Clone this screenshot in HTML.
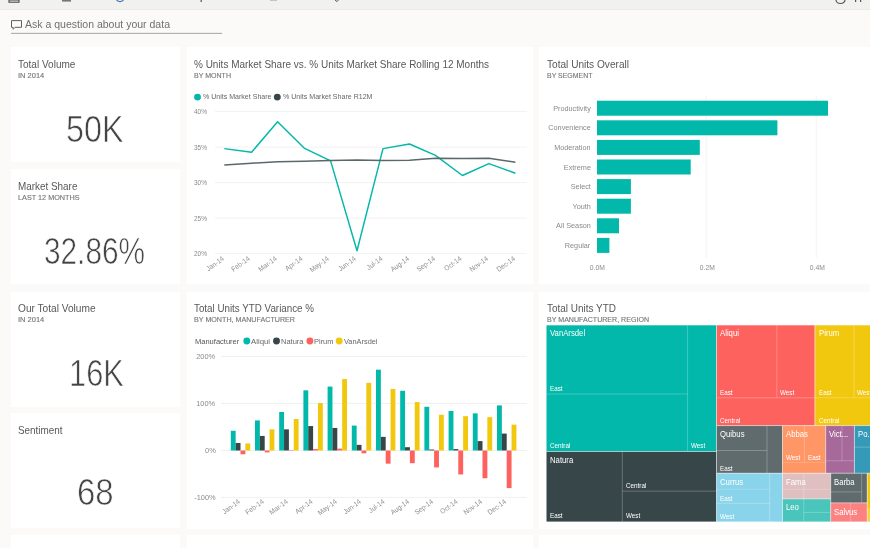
<!DOCTYPE html>
<html><head><meta charset="utf-8"><title>Dashboard</title>
<style>
html,body{margin:0;padding:0}
body{width:870px;height:548px;overflow:hidden;background:#fbfaf9;font-family:"Liberation Sans",sans-serif;position:relative}
#wrap{position:absolute;left:0;top:0;width:870px;height:548px;overflow:hidden;filter:blur(0.45px)}
.topbar{position:absolute;left:0;top:0;width:870px;height:8.8px;background:#f1f1f0;border-bottom:1px solid #ebebea}
.tile{position:absolute;background:#fff}
.t{position:absolute;white-space:nowrap;line-height:1}
.num{-webkit-text-stroke:0.7px #fff}
.sub{-webkit-text-stroke:0.12px #757575}
svg{position:absolute;left:0;top:0}
.rl{position:absolute;white-space:nowrap;line-height:1;font-size:7.1px;color:#8e8e8e;transform-origin:100% 50%}
</style></head><body><div id="wrap">
<div class="topbar"></div>

<div class="tile" style="left:11px;top:47.2px;width:168.5px;height:115px"></div>
<div class="tile" style="left:11px;top:169px;width:168.5px;height:115px"></div>
<div class="tile" style="left:11px;top:291.5px;width:168.5px;height:115px"></div>
<div class="tile" style="left:11px;top:413.3px;width:168.5px;height:115px"></div>
<div class="tile" style="left:11px;top:535px;width:168.5px;height:20px"></div>
<div class="tile" style="left:187px;top:47.2px;width:346px;height:237px"></div>
<div class="tile" style="left:187px;top:291.5px;width:346px;height:237px"></div>
<div class="tile" style="left:187px;top:535px;width:346px;height:20px"></div>
<div class="tile" style="left:539px;top:47.2px;width:340px;height:237px"></div>
<div class="tile" style="left:539px;top:291.5px;width:340px;height:237px"></div>
<div class="tile" style="left:539px;top:535px;width:340px;height:20px"></div>
<svg width="870" height="548" viewBox="0 0 870 548">
<rect x="9" y="0" width="10" height="2.2" fill="none" stroke="#555" stroke-width="1.2"/>
<rect x="62" y="0" width="9" height="1.6" fill="#777"/>
<path d="M116.5 0 a4 3 0 0 0 7 0" fill="none" stroke="#3a6fb0" stroke-width="1.2"/>
<rect x="200.6" y="0" width="1.2" height="2" fill="#555"/>
<path d="M335 0 l2 1.6 l1.5 -1.6" fill="none" stroke="#555" stroke-width="1"/><rect x="270" y="0" width="7" height="0.8" fill="#bbb"/>
<path d="M836 0 a4.5 3.5 0 0 0 9 0" fill="none" stroke="#555" stroke-width="1.2"/>
<rect x="855" y="0" width="1.2" height="2" fill="#555"/><rect x="860" y="0" width="1.2" height="2" fill="#555"/>
<path d="M11.5 20.6h10v6.7h-6.4l-2 2v-2h-1.6z" fill="none" stroke="#606060" stroke-width="1"/>
<rect x="11" y="32.9" width="211" height="0.7" fill="#808080"/>
<line x1="215" x2="527" y1="111.6" y2="111.6" stroke="#f2f2f2" stroke-width="1"/>
<line x1="215" x2="527" y1="147.1" y2="147.1" stroke="#f2f2f2" stroke-width="1"/>
<line x1="215" x2="527" y1="182.6" y2="182.6" stroke="#f2f2f2" stroke-width="1"/>
<line x1="215" x2="527" y1="218.1" y2="218.1" stroke="#f2f2f2" stroke-width="1"/>
<line x1="215" x2="527" y1="253.6" y2="253.6" stroke="#f2f2f2" stroke-width="1"/>
<polyline fill="none" stroke="#01b8aa" stroke-width="1.45" stroke-linejoin="round" points="224.3,148.6 251.6,152.2 277.6,121.7 304.1,148.1 330.6,160.9 357.0,250.8 383.0,148.6 409.5,144.0 435.5,155.4 462.4,175.5 488.9,163.6 515.4,173.2"/>
<polyline fill="none" stroke="#5a686b" stroke-width="1.5" stroke-linejoin="round" points="224.3,165.0 251.6,163.2 277.6,161.8 304.1,161.2 330.6,160.5 357,160 383,160.5 409.5,160.2 435.5,158.2 462.4,158.6 488.9,158.2 515.4,162.3"/>
<circle cx="197.5" cy="97.1" r="3.45" fill="#01b8aa"/><circle cx="277.3" cy="97.1" r="3.45" fill="#374649"/>
<line x1="706.2" x2="706.2" y1="96" y2="258" stroke="#f3f3f3" stroke-width="1"/>
<line x1="816.2" x2="816.2" y1="96" y2="258" stroke="#f3f3f3" stroke-width="1"/>
<rect x="597.0" y="100.7" width="231.0" height="15" fill="#01b8aa"/>
<rect x="597.0" y="120.3" width="180.4" height="15" fill="#01b8aa"/>
<rect x="597.0" y="139.9" width="102.8" height="15" fill="#01b8aa"/>
<rect x="597.0" y="159.5" width="93.7" height="15" fill="#01b8aa"/>
<rect x="597.0" y="179.1" width="33.9" height="15" fill="#01b8aa"/>
<rect x="597.0" y="198.7" width="33.9" height="15" fill="#01b8aa"/>
<rect x="597.0" y="218.3" width="22.0" height="15" fill="#01b8aa"/>
<rect x="597.0" y="237.9" width="12.4" height="15" fill="#01b8aa"/>
<line x1="221" x2="527" y1="356.4" y2="356.4" stroke="#f0f0f0" stroke-width="1"/>
<line x1="221" x2="527" y1="403.4" y2="403.4" stroke="#f0f0f0" stroke-width="1"/>
<line x1="221" x2="527" y1="450.4" y2="450.4" stroke="#f0f0f0" stroke-width="1"/>
<line x1="221" x2="527" y1="497.4" y2="497.4" stroke="#f0f0f0" stroke-width="1"/>
<rect x="230.80" y="430.76" width="4.85" height="19.74" fill="#01b8aa"/>
<rect x="235.65" y="442.98" width="4.85" height="7.52" fill="#374649"/>
<rect x="240.50" y="450.50" width="4.85" height="3.76" fill="#fd625e"/>
<rect x="245.35" y="443.45" width="4.85" height="7.05" fill="#f2c80f"/>
<rect x="255.00" y="420.42" width="4.85" height="30.08" fill="#01b8aa"/>
<rect x="259.85" y="435.93" width="4.85" height="14.57" fill="#374649"/>
<rect x="264.70" y="450.50" width="4.85" height="1.88" fill="#fd625e"/>
<rect x="269.55" y="429.35" width="4.85" height="21.15" fill="#f2c80f"/>
<rect x="279.20" y="411.96" width="4.85" height="38.54" fill="#01b8aa"/>
<rect x="284.05" y="429.35" width="4.85" height="21.15" fill="#374649"/>
<rect x="288.90" y="450.50" width="4.85" height="0.47" fill="#fd625e"/>
<rect x="293.75" y="419.01" width="4.85" height="31.49" fill="#f2c80f"/>
<rect x="303.40" y="390.34" width="4.85" height="60.16" fill="#01b8aa"/>
<rect x="308.25" y="426.06" width="4.85" height="24.44" fill="#374649"/>
<rect x="313.10" y="449.09" width="4.85" height="1.41" fill="#fd625e"/>
<rect x="317.95" y="403.03" width="4.85" height="47.47" fill="#f2c80f"/>
<rect x="327.60" y="386.58" width="4.85" height="63.92" fill="#01b8aa"/>
<rect x="332.45" y="427.94" width="4.85" height="22.56" fill="#374649"/>
<rect x="337.30" y="448.62" width="4.85" height="1.88" fill="#fd625e"/>
<rect x="342.15" y="379.06" width="4.85" height="71.44" fill="#f2c80f"/>
<rect x="351.80" y="425.59" width="4.85" height="24.91" fill="#01b8aa"/>
<rect x="356.65" y="444.86" width="4.85" height="5.64" fill="#374649"/>
<rect x="361.50" y="450.50" width="4.85" height="2.82" fill="#fd625e"/>
<rect x="366.35" y="382.82" width="4.85" height="67.68" fill="#f2c80f"/>
<rect x="376.00" y="369.66" width="4.85" height="80.84" fill="#01b8aa"/>
<rect x="380.85" y="436.87" width="4.85" height="13.63" fill="#374649"/>
<rect x="385.70" y="450.50" width="4.85" height="13.16" fill="#fd625e"/>
<rect x="390.55" y="388.93" width="4.85" height="61.57" fill="#f2c80f"/>
<rect x="400.20" y="390.81" width="4.85" height="59.69" fill="#01b8aa"/>
<rect x="405.05" y="447.21" width="4.85" height="3.29" fill="#374649"/>
<rect x="409.90" y="450.50" width="4.85" height="12.69" fill="#fd625e"/>
<rect x="414.75" y="402.09" width="4.85" height="48.41" fill="#f2c80f"/>
<rect x="424.40" y="406.79" width="4.85" height="43.71" fill="#01b8aa"/>
<rect x="429.25" y="449.56" width="4.85" height="0.94" fill="#374649"/>
<rect x="434.10" y="450.50" width="4.85" height="16.92" fill="#fd625e"/>
<rect x="438.95" y="414.78" width="4.85" height="35.72" fill="#f2c80f"/>
<rect x="448.60" y="411.02" width="4.85" height="39.48" fill="#01b8aa"/>
<rect x="453.45" y="449.09" width="4.85" height="1.41" fill="#374649"/>
<rect x="458.30" y="450.50" width="4.85" height="23.97" fill="#fd625e"/>
<rect x="463.15" y="416.19" width="4.85" height="34.31" fill="#f2c80f"/>
<rect x="472.80" y="413.37" width="4.85" height="37.13" fill="#01b8aa"/>
<rect x="477.65" y="441.10" width="4.85" height="9.40" fill="#374649"/>
<rect x="482.50" y="450.50" width="4.85" height="27.73" fill="#fd625e"/>
<rect x="487.35" y="417.13" width="4.85" height="33.37" fill="#f2c80f"/>
<rect x="497.00" y="405.38" width="4.85" height="45.12" fill="#01b8aa"/>
<rect x="501.85" y="433.58" width="4.85" height="16.92" fill="#374649"/>
<rect x="506.70" y="450.50" width="4.85" height="37.60" fill="#fd625e"/>
<rect x="511.55" y="424.65" width="4.85" height="25.85" fill="#f2c80f"/>
<circle cx="246.8" cy="341" r="3.45" fill="#01b8aa"/>
<circle cx="276.5" cy="341" r="3.45" fill="#374649"/>
<circle cx="309.9" cy="341" r="3.45" fill="#fd625e"/>
<circle cx="339.2" cy="341" r="3.45" fill="#f2c80f"/>
<rect x="546.5" y="325.3" width="170.0" height="126.2" fill="#01b8aa"/>
<line x1="687.6" y1="325.3" x2="687.6" y2="451.5" stroke="#fff" stroke-opacity="0.28" stroke-width="0.9"/>
<line x1="546.5" y1="394.0" x2="687.6" y2="394.0" stroke="#fff" stroke-opacity="0.28" stroke-width="0.9"/>
<rect x="546.5" y="451.5" width="170.0" height="70.1" fill="#374649"/>
<line x1="622.3" y1="451.5" x2="622.3" y2="521.6" stroke="#fff" stroke-opacity="0.28" stroke-width="0.9"/>
<line x1="622.3" y1="491.1" x2="716.5" y2="491.1" stroke="#fff" stroke-opacity="0.28" stroke-width="0.9"/>
<rect x="716.5" y="325.3" width="98.4" height="100.3" fill="#fd625e"/>
<line x1="776.8" y1="325.3" x2="776.8" y2="397.8" stroke="#fff" stroke-opacity="0.28" stroke-width="0.9"/>
<line x1="716.5" y1="397.8" x2="814.9" y2="397.8" stroke="#fff" stroke-opacity="0.28" stroke-width="0.9"/>
<rect x="814.9" y="325.3" width="65.1" height="100.3" fill="#f2c80f"/>
<line x1="854.0" y1="325.3" x2="854.0" y2="397.8" stroke="#fff" stroke-opacity="0.28" stroke-width="0.9"/>
<line x1="814.9" y1="397.8" x2="880.0" y2="397.8" stroke="#fff" stroke-opacity="0.28" stroke-width="0.9"/>
<rect x="716.5" y="425.6" width="66.0" height="47.6" fill="#5f6b6d"/>
<line x1="767.0" y1="425.6" x2="767.0" y2="473.2" stroke="#fff" stroke-opacity="0.28" stroke-width="0.9"/>
<line x1="716.5" y1="450.5" x2="767.0" y2="450.5" stroke="#fff" stroke-opacity="0.28" stroke-width="0.9"/>
<rect x="782.5" y="425.6" width="43.2" height="47.6" fill="#fe9666"/>
<line x1="804.4" y1="425.6" x2="804.4" y2="462.6" stroke="#fff" stroke-opacity="0.28" stroke-width="0.9"/>
<line x1="782.5" y1="462.6" x2="825.7" y2="462.6" stroke="#fff" stroke-opacity="0.2" stroke-width="0.9"/>
<rect x="825.7" y="425.6" width="28.7" height="47.6" fill="#a66999"/>
<line x1="842.0" y1="425.6" x2="842.0" y2="460.8" stroke="#fff" stroke-opacity="0.28" stroke-width="0.9"/>
<line x1="825.7" y1="460.8" x2="854.4" y2="460.8" stroke="#fff" stroke-opacity="0.28" stroke-width="0.9"/>
<rect x="854.4" y="425.6" width="25.6" height="47.6" fill="#3599b8"/>
<line x1="854.4" y1="447.1" x2="880.0" y2="447.1" stroke="#fff" stroke-opacity="0.28" stroke-width="0.9"/>
<rect x="716.5" y="473.2" width="66.0" height="48.4" fill="#8ad4eb"/>
<line x1="769.6" y1="473.2" x2="769.6" y2="521.6" stroke="#fff" stroke-opacity="0.28" stroke-width="0.9"/>
<line x1="716.5" y1="489.3" x2="769.6" y2="489.3" stroke="#fff" stroke-opacity="0.2" stroke-width="0.9"/>
<line x1="716.5" y1="503.3" x2="769.6" y2="503.3" stroke="#fff" stroke-opacity="0.28" stroke-width="0.9"/>
<rect x="782.5" y="473.2" width="48.2" height="25.7" fill="#dfbfbf"/>
<line x1="803.8" y1="473.2" x2="803.8" y2="498.9" stroke="#fff" stroke-opacity="0.28" stroke-width="0.9"/>
<line x1="782.5" y1="489.3" x2="830.7" y2="489.3" stroke="#fff" stroke-opacity="0.25" stroke-width="0.9"/>
<rect x="782.5" y="498.9" width="48.2" height="22.7" fill="#4ac5bb"/>
<line x1="803.8" y1="498.9" x2="803.8" y2="521.6" stroke="#fff" stroke-opacity="0.28" stroke-width="0.9"/>
<line x1="803.8" y1="512.4" x2="830.7" y2="512.4" stroke="#fff" stroke-opacity="0.28" stroke-width="0.9"/>
<rect x="830.7" y="473.2" width="36.5" height="29.7" fill="#5f6b6d"/>
<line x1="830.7" y1="491.9" x2="861.6" y2="491.9" stroke="#fff" stroke-opacity="0.28" stroke-width="0.9"/>
<line x1="861.6" y1="473.2" x2="861.6" y2="502.9" stroke="#fff" stroke-opacity="0.28" stroke-width="0.9"/>
<rect x="830.7" y="502.9" width="36.5" height="18.7" fill="#fb8281"/>
<line x1="850.6" y1="502.9" x2="850.6" y2="521.6" stroke="#fff" stroke-opacity="0.28" stroke-width="0.9"/>
<rect x="867.2" y="473.2" width="12.8" height="34.8" fill="#f2c80f"/>
<rect x="867.2" y="508.0" width="12.8" height="13.6" fill="#f5d33f"/>
<line x1="716.5" y1="325.3" x2="716.5" y2="521.6" stroke="#fff" stroke-width="0.8" stroke-opacity="0.6"/>
<line x1="546.5" y1="451.5" x2="716.5" y2="451.5" stroke="#fff" stroke-width="0.8" stroke-opacity="0.6"/>
<line x1="814.9" y1="325.3" x2="814.9" y2="425.6" stroke="#fff" stroke-width="0.8" stroke-opacity="0.6"/>
<line x1="716.5" y1="425.6" x2="880.0" y2="425.6" stroke="#fff" stroke-width="0.8" stroke-opacity="0.6"/>
<line x1="782.5" y1="425.6" x2="782.5" y2="521.6" stroke="#fff" stroke-width="0.8" stroke-opacity="0.6"/>
<line x1="825.7" y1="425.6" x2="825.7" y2="473.2" stroke="#fff" stroke-width="0.8" stroke-opacity="0.6"/>
<line x1="854.4" y1="425.6" x2="854.4" y2="473.2" stroke="#fff" stroke-width="0.8" stroke-opacity="0.6"/>
<line x1="716.5" y1="473.2" x2="880.0" y2="473.2" stroke="#fff" stroke-width="0.8" stroke-opacity="0.6"/>
<line x1="830.7" y1="473.2" x2="830.7" y2="521.6" stroke="#fff" stroke-width="0.8" stroke-opacity="0.6"/>
<line x1="782.5" y1="498.9" x2="830.7" y2="498.9" stroke="#fff" stroke-width="0.8" stroke-opacity="0.6"/>
<line x1="830.7" y1="502.9" x2="867.2" y2="502.9" stroke="#fff" stroke-width="0.8" stroke-opacity="0.6"/>
<line x1="867.2" y1="473.2" x2="867.2" y2="521.6" stroke="#fff" stroke-width="0.8" stroke-opacity="0.6"/>
</svg>
<span class="t" style="left:550.0px;top:329.22px;font-size:8.6px;color:#fff;transform:scaleX(0.9);transform-origin:0 0">VanArsdel</span>
<span class="t" style="left:550.0px;top:384.67px;font-size:7.0px;color:#fff;transform:scaleX(0.9);transform-origin:0 0">East</span>
<span class="t" style="left:550.0px;top:442.37px;font-size:7.0px;color:#fff;transform:scaleX(0.9);transform-origin:0 0">Central</span>
<span class="t" style="left:690.5px;top:442.37px;font-size:7.0px;color:#fff;transform:scaleX(0.9);transform-origin:0 0">West</span>
<span class="t" style="left:550.0px;top:455.72px;font-size:8.6px;color:#fff;transform:scaleX(0.9);transform-origin:0 0">Natura</span>
<span class="t" style="left:550.0px;top:512.37px;font-size:7.0px;color:#fff;transform:scaleX(0.9);transform-origin:0 0">East</span>
<span class="t" style="left:625.5px;top:481.87px;font-size:7.0px;color:#fff;transform:scaleX(0.9);transform-origin:0 0">Central</span>
<span class="t" style="left:625.5px;top:512.37px;font-size:7.0px;color:#fff;transform:scaleX(0.9);transform-origin:0 0">West</span>
<span class="t" style="left:720.0px;top:329.22px;font-size:8.6px;color:#fff;transform:scaleX(0.9);transform-origin:0 0">Aliqui</span>
<span class="t" style="left:720.0px;top:388.87px;font-size:7.0px;color:#fff;transform:scaleX(0.9);transform-origin:0 0">East</span>
<span class="t" style="left:780.0px;top:388.87px;font-size:7.0px;color:#fff;transform:scaleX(0.9);transform-origin:0 0">West</span>
<span class="t" style="left:720.0px;top:416.87px;font-size:7.0px;color:#fff;transform:scaleX(0.9);transform-origin:0 0">Central</span>
<span class="t" style="left:818.5px;top:329.22px;font-size:8.6px;color:#fff;transform:scaleX(0.9);transform-origin:0 0">Pirum</span>
<span class="t" style="left:818.5px;top:388.87px;font-size:7.0px;color:#fff;transform:scaleX(0.9);transform-origin:0 0">East</span>
<span class="t" style="left:857.0px;top:388.87px;font-size:7.0px;color:#fff;transform:scaleX(0.9);transform-origin:0 0">West</span>
<span class="t" style="left:818.5px;top:416.87px;font-size:7.0px;color:#fff;transform:scaleX(0.9);transform-origin:0 0">Central</span>
<span class="t" style="left:720.0px;top:430.22px;font-size:8.6px;color:#fff;transform:scaleX(0.9);transform-origin:0 0">Quibus</span>
<span class="t" style="left:720.0px;top:464.87px;font-size:7.0px;color:#fff;transform:scaleX(0.9);transform-origin:0 0">East</span>
<span class="t" style="left:786.0px;top:430.22px;font-size:8.6px;color:#fff;transform:scaleX(0.9);transform-origin:0 0">Abbas</span>
<span class="t" style="left:786.0px;top:453.87px;font-size:7.0px;color:#fff;transform:scaleX(0.9);transform-origin:0 0">West</span>
<span class="t" style="left:808.0px;top:453.87px;font-size:7.0px;color:#fff;transform:scaleX(0.9);transform-origin:0 0">East</span>
<span class="t" style="left:829.0px;top:430.22px;font-size:8.6px;color:#fff;transform:scaleX(0.9);transform-origin:0 0">Vict...</span>
<span class="t" style="left:858.0px;top:430.22px;font-size:8.6px;color:#fff;transform:scaleX(0.9);transform-origin:0 0">Po...</span>
<span class="t" style="left:720.0px;top:478.22px;font-size:8.6px;color:#fff;transform:scaleX(0.9);transform-origin:0 0">Currus</span>
<span class="t" style="left:720.0px;top:494.87px;font-size:7.0px;color:#fff;transform:scaleX(0.9);transform-origin:0 0">East</span>
<span class="t" style="left:720.0px;top:512.87px;font-size:7.0px;color:#fff;transform:scaleX(0.9);transform-origin:0 0">West</span>
<span class="t" style="left:786.0px;top:478.22px;font-size:8.6px;color:#fff;transform:scaleX(0.9);transform-origin:0 0">Fama</span>
<span class="t" style="left:786.0px;top:503.22px;font-size:8.6px;color:#fff;transform:scaleX(0.9);transform-origin:0 0">Leo</span>
<span class="t" style="left:834.0px;top:478.22px;font-size:8.6px;color:#fff;transform:scaleX(0.9);transform-origin:0 0">Barba</span>
<span class="t" style="left:834.0px;top:507.72px;font-size:8.6px;color:#fff;transform:scaleX(0.9);transform-origin:0 0">Salvus</span>
<span class="t" style="left:25.40px;top:18.93px;font-size:11.3px;color:#707070;transform:scaleX(0.9309);transform-origin:0 0">Ask a question about your data</span>
<span class="t" style="left:17.60px;top:58.79px;font-size:11.0px;color:#585858;transform:scaleX(0.9113);transform-origin:0 0">Total Volume</span>
<span class="t sub" style="left:17.60px;top:73.04px;font-size:6.8px;color:#757575;transform:scaleX(1.1045);transform-origin:0 0">IN 2014</span>
<span class="t num" style="left:66.30px;top:110.74px;font-size:37.4px;color:#444;transform:scaleX(0.8643);transform-origin:0 0">50K</span>
<span class="t" style="left:17.60px;top:180.59px;font-size:11.0px;color:#585858;transform:scaleX(0.8996);transform-origin:0 0">Market Share</span>
<span class="t sub" style="left:17.60px;top:194.84px;font-size:6.8px;color:#757575;transform:scaleX(1.0681);transform-origin:0 0">LAST 12 MONTHS</span>
<span class="t num" style="left:44.10px;top:232.84px;font-size:37.4px;color:#444;transform:scaleX(0.7964);transform-origin:0 0">32.86%</span>
<span class="t" style="left:17.60px;top:303.09px;font-size:11.0px;color:#585858;transform:scaleX(0.9218);transform-origin:0 0">Our Total Volume</span>
<span class="t sub" style="left:17.60px;top:317.34px;font-size:6.8px;color:#757575;transform:scaleX(1.1045);transform-origin:0 0">IN 2014</span>
<span class="t num" style="left:69.30px;top:355.04px;font-size:37.4px;color:#444;transform:scaleX(0.8237);transform-origin:0 0">16K</span>
<span class="t" style="left:17.60px;top:424.89px;font-size:11.0px;color:#585858;transform:scaleX(0.9004);transform-origin:0 0">Sentiment</span>
<span class="t num" style="left:76.90px;top:473.84px;font-size:37.4px;color:#444;transform:scaleX(0.8823);transform-origin:0 0">68</span>
<span class="t" style="left:194.20px;top:58.57px;font-size:10.9px;color:#585858;transform:scaleX(0.9161);transform-origin:0 0">% Units Market Share vs. % Units Market Share Rolling 12 Months</span>
<span class="t sub" style="left:194.20px;top:72.64px;font-size:6.8px;color:#757575;transform:scaleX(1.0350);transform-origin:0 0">BY MONTH</span>
<span class="t" style="left:202.50px;top:93.17px;font-size:7.6px;color:#666;transform:scaleX(0.9274);transform-origin:0 0">% Units Market Share</span>
<span class="t" style="left:282.50px;top:93.17px;font-size:7.6px;color:#666;transform:scaleX(0.9300);transform-origin:0 0">% Units Market Share R12M</span>
<span class="t" style="left:194.30px;top:108.05px;font-size:7.5px;color:#8a8a8a;transform:scaleX(0.8658);transform-origin:0 0">40%</span>
<span class="t" style="left:194.30px;top:143.55px;font-size:7.5px;color:#8a8a8a;transform:scaleX(0.8658);transform-origin:0 0">35%</span>
<span class="t" style="left:194.30px;top:179.05px;font-size:7.5px;color:#8a8a8a;transform:scaleX(0.8658);transform-origin:0 0">30%</span>
<span class="t" style="left:194.30px;top:214.55px;font-size:7.5px;color:#8a8a8a;transform:scaleX(0.8658);transform-origin:0 0">25%</span>
<span class="t" style="left:194.30px;top:250.05px;font-size:7.5px;color:#8a8a8a;transform:scaleX(0.8658);transform-origin:0 0">20%</span>
<span class="t" style="left:546.50px;top:58.57px;font-size:10.9px;color:#585858;transform:scaleX(0.9279);transform-origin:0 0">Total Units Overall</span>
<span class="t sub" style="left:546.50px;top:72.64px;font-size:6.8px;color:#757575;transform:scaleX(1.0236);transform-origin:0 0">BY SEGMENT</span>
<span class="t" style="left:551.73px;top:104.75px;font-size:7.5px;color:#8a8a8a;transform:scaleX(0.9700);transform-origin:100% 0">Productivity</span>
<span class="t" style="left:546.72px;top:124.35px;font-size:7.5px;color:#8a8a8a;transform:scaleX(0.9700);transform-origin:100% 0">Convenience</span>
<span class="t" style="left:552.97px;top:143.95px;font-size:7.5px;color:#8a8a8a;transform:scaleX(0.9700);transform-origin:100% 0">Moderation</span>
<span class="t" style="left:562.56px;top:163.55px;font-size:7.5px;color:#8a8a8a;transform:scaleX(0.9700);transform-origin:100% 0">Extreme</span>
<span class="t" style="left:569.64px;top:183.15px;font-size:7.5px;color:#8a8a8a;transform:scaleX(0.9700);transform-origin:100% 0">Select</span>
<span class="t" style="left:571.58px;top:202.75px;font-size:7.5px;color:#8a8a8a;transform:scaleX(0.9700);transform-origin:100% 0">Youth</span>
<span class="t" style="left:554.64px;top:222.35px;font-size:7.5px;color:#8a8a8a;transform:scaleX(0.9700);transform-origin:100% 0">All Season</span>
<span class="t" style="left:564.23px;top:241.95px;font-size:7.5px;color:#8a8a8a;transform:scaleX(0.9700);transform-origin:100% 0">Regular</span>
<span class="t" style="left:588.86px;top:264.05px;font-size:7.5px;color:#8a8a8a;transform:scaleX(0.9000);transform-origin:50% 0">0.0M</span>
<span class="t" style="left:698.86px;top:264.05px;font-size:7.5px;color:#8a8a8a;transform:scaleX(0.9000);transform-origin:50% 0">0.2M</span>
<span class="t" style="left:808.86px;top:264.05px;font-size:7.5px;color:#8a8a8a;transform:scaleX(0.9000);transform-origin:50% 0">0.4M</span>
<span class="t" style="left:193.80px;top:303.17px;font-size:10.9px;color:#585858;transform:scaleX(0.8997);transform-origin:0 0">Total Units YTD Variance %</span>
<span class="t sub" style="left:193.80px;top:317.14px;font-size:6.8px;color:#757575;transform:scaleX(1.0502);transform-origin:0 0">BY MONTH, MANUFACTURER</span>
<span class="t" style="left:194.60px;top:337.67px;font-size:7.6px;color:#555;transform:scaleX(0.9899);transform-origin:0 0">Manufacturer</span>
<span class="t" style="left:251.20px;top:337.67px;font-size:7.6px;color:#666;transform:scaleX(1.0227);transform-origin:0 0">Aliqui</span>
<span class="t" style="left:281.00px;top:337.67px;font-size:7.6px;color:#666;transform:scaleX(0.9870);transform-origin:0 0">Natura</span>
<span class="t" style="left:314.30px;top:337.67px;font-size:7.6px;color:#666;transform:scaleX(0.9827);transform-origin:0 0">Pirum</span>
<span class="t" style="left:343.70px;top:337.67px;font-size:7.6px;color:#666;transform:scaleX(0.9715);transform-origin:0 0">VanArsdel</span>
<span class="t" style="left:196.31px;top:352.85px;font-size:7.5px;color:#8a8a8a;transform:scaleX(0.9900);transform-origin:100% 0">200%</span>
<span class="t" style="left:196.31px;top:399.85px;font-size:7.5px;color:#8a8a8a;transform:scaleX(0.9900);transform-origin:100% 0">100%</span>
<span class="t" style="left:204.66px;top:446.85px;font-size:7.5px;color:#8a8a8a;transform:scaleX(0.9900);transform-origin:100% 0">0%</span>
<span class="t" style="left:193.81px;top:493.85px;font-size:7.5px;color:#8a8a8a;transform:scaleX(0.9900);transform-origin:100% 0">-100%</span>
<span class="t" style="left:546.80px;top:303.17px;font-size:10.9px;color:#585858;transform:scaleX(0.9145);transform-origin:0 0">Total Units YTD</span>
<span class="t sub" style="left:546.80px;top:317.14px;font-size:6.8px;color:#757575;transform:scaleX(1.0400);transform-origin:0 0">BY MANUFACTURER, REGION</span>
<span class="rl" style="right:646.7px;top:254.6px;transform:rotate(-36deg) scaleX(0.92)">Jan-14</span>
<span class="rl" style="right:620.2px;top:254.6px;transform:rotate(-36deg) scaleX(0.92)">Feb-14</span>
<span class="rl" style="right:593.8px;top:254.6px;transform:rotate(-36deg) scaleX(0.92)">Mar-14</span>
<span class="rl" style="right:567.3px;top:254.6px;transform:rotate(-36deg) scaleX(0.92)">Apr-14</span>
<span class="rl" style="right:540.9px;top:254.6px;transform:rotate(-36deg) scaleX(0.92)">May-14</span>
<span class="rl" style="right:514.4px;top:254.6px;transform:rotate(-36deg) scaleX(0.92)">Jun-14</span>
<span class="rl" style="right:487.9px;top:254.6px;transform:rotate(-36deg) scaleX(0.92)">Jul-14</span>
<span class="rl" style="right:461.5px;top:254.6px;transform:rotate(-36deg) scaleX(0.92)">Aug-14</span>
<span class="rl" style="right:435.0px;top:254.6px;transform:rotate(-36deg) scaleX(0.92)">Sep-14</span>
<span class="rl" style="right:408.6px;top:254.6px;transform:rotate(-36deg) scaleX(0.92)">Oct-14</span>
<span class="rl" style="right:382.1px;top:254.6px;transform:rotate(-36deg) scaleX(0.92)">Nov-14</span>
<span class="rl" style="right:355.6px;top:254.6px;transform:rotate(-36deg) scaleX(0.92)">Dec-14</span>
<span class="rl" style="right:630.5px;top:498.3px;transform:rotate(-36deg) scaleX(0.92)">Jan-14</span>
<span class="rl" style="right:606.3px;top:498.3px;transform:rotate(-36deg) scaleX(0.92)">Feb-14</span>
<span class="rl" style="right:582.1px;top:498.3px;transform:rotate(-36deg) scaleX(0.92)">Mar-14</span>
<span class="rl" style="right:557.9px;top:498.3px;transform:rotate(-36deg) scaleX(0.92)">Apr-14</span>
<span class="rl" style="right:533.7px;top:498.3px;transform:rotate(-36deg) scaleX(0.92)">May-14</span>
<span class="rl" style="right:509.5px;top:498.3px;transform:rotate(-36deg) scaleX(0.92)">Jun-14</span>
<span class="rl" style="right:485.3px;top:498.3px;transform:rotate(-36deg) scaleX(0.92)">Jul-14</span>
<span class="rl" style="right:461.1px;top:498.3px;transform:rotate(-36deg) scaleX(0.92)">Aug-14</span>
<span class="rl" style="right:436.9px;top:498.3px;transform:rotate(-36deg) scaleX(0.92)">Sep-14</span>
<span class="rl" style="right:412.7px;top:498.3px;transform:rotate(-36deg) scaleX(0.92)">Oct-14</span>
<span class="rl" style="right:388.5px;top:498.3px;transform:rotate(-36deg) scaleX(0.92)">Nov-14</span>
<span class="rl" style="right:364.3px;top:498.3px;transform:rotate(-36deg) scaleX(0.92)">Dec-14</span>
</div></body></html>
